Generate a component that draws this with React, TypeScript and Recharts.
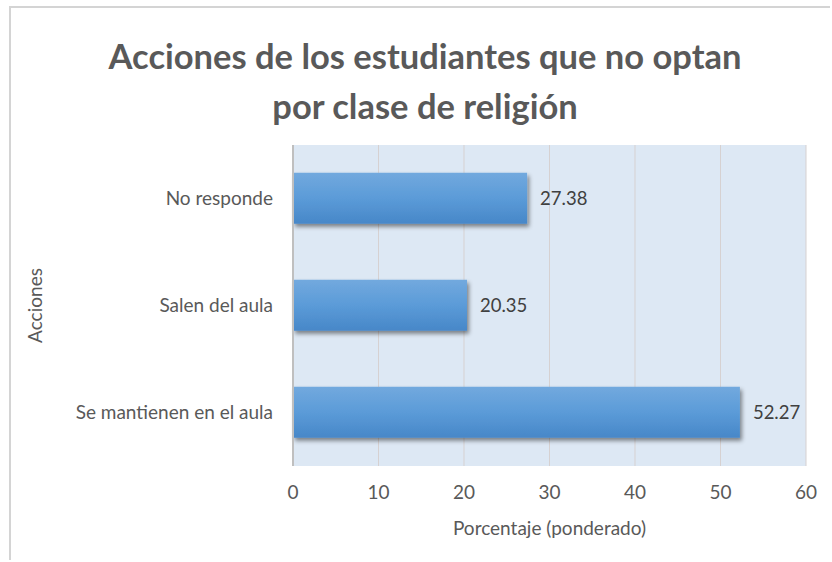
import React from 'react'
import {
  BarChart, Bar, XAxis, YAxis, CartesianGrid, LabelList, Label
} from 'recharts'

const categories = ['No responde', 'Salen del aula', 'Se mantienen en el aula']
const values = [27.38, 20.35, 52.27]
const xTicks = [0, 10, 20, 30, 40, 50, 60]

const data = categories.map((c, i) => ({ accion: c, pct: values[i] }))

const FONT = 'Lato, "Open Sans", sans-serif'

export default function App() {
  return (
    <div style={{ position: 'relative', width: 824, height: 546, overflow: 'hidden', fontFamily: FONT }}>
      <div
        style={{
          position: 'fixed', left: 9, top: 6, width: 821, height: 554, zIndex: 2,
          borderTop: '2px solid #d4d4d4', borderLeft: '2px solid #d4d4d4',
          pointerEvents: 'none', boxSizing: 'border-box',
        }}
      />
      <div
        style={{
          position: 'absolute', left: 0, top: 23, width: 834, textAlign: 'center',
          fontSize: 34.5, fontWeight: 700, color: '#595959', lineHeight: '50px',
          whiteSpace: 'nowrap',
        }}
      >
        Acciones de los estudiantes que no optan
        <br />
        por clase de religión
      </div>
      <BarChart
        width={824}
        height={554}
        data={data}
        layout="vertical"
        margin={{ top: 137, right: 26, bottom: 36, left: 0 }}
        barCategoryGap="26%"
        style={{ position: 'absolute', left: 0, top: 0 }}
      >
        <defs>
          <linearGradient id="barFill" x1="0" y1="0" x2="0" y2="1">
            <stop offset="0%" stopColor="#72a9de" />
            <stop offset="50%" stopColor="#5b9bd8" />
            <stop offset="100%" stopColor="#4787c8" />
          </linearGradient>
          <filter id="shadow" x="-5%" y="-20%" width="115%" height="160%">
            <feDropShadow dx="2" dy="3" stdDeviation="2" floodColor="#000" floodOpacity="0.45" />
          </filter>
        </defs>
        <CartesianGrid
          horizontal={false}
          stroke="#d6d1d1"
          fill="#dde8f4"
          fillOpacity={1}
        />
        <XAxis
          type="number"
          domain={[0, 60]}
          ticks={xTicks}
          axisLine={false}
          tickLine={false}
          height={60}
          tick={{ fill: '#595959', fontSize: 19, dy: 12 }}
        >
          <Label value="Porcentaje (ponderado)" position="insideBottom" offset={-9} fill="#595959" fontSize={19} />
        </XAxis>
        <YAxis
          type="category"
          dataKey="accion"
          width={285}
          axisLine={{ stroke: '#bfbfbf', strokeWidth: 2 }}
          tickLine={false}
          tick={{ fill: '#595959', fontSize: 19, dx: -12 }}
        >
          <Label value="Acciones" angle={-90} position="insideLeft" offset={27} fill="#595959" fontSize={19} style={{ textAnchor: 'middle' }} />
        </YAxis>
        <Bar dataKey="pct" fill="url(#barFill)" filter="url(#shadow)" isAnimationActive={false}>
          <LabelList dataKey="pct" position="right" offset={13} fill="#404040" fontSize={18.5} formatter={(v: number) => v.toFixed(2)} />
        </Bar>
      </BarChart>
    </div>
  )
}
